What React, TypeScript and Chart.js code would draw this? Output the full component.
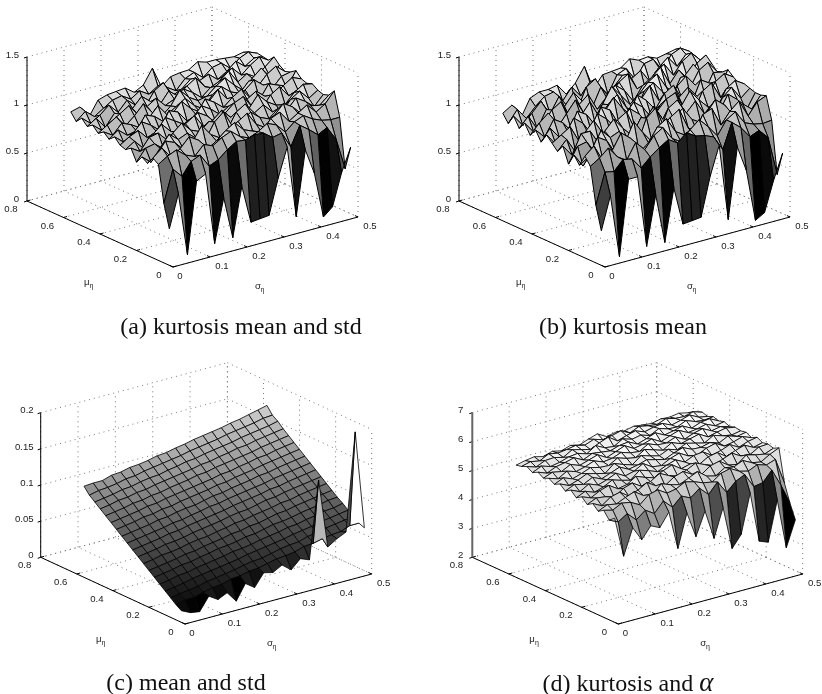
import React, { useEffect, useRef } from "react";
import { Chart, registerables } from "chart.js";

Chart.register(...registerables);

const sigmaGrid = [0,0.0245,0.049,0.0735,0.098,0.1225,0.147,0.1715,0.196,0.2205,0.245,0.2695,0.294,0.3185,0.343,0.3675,0.392,0.4165,0.441,0.4655,0.49];
const muGrid = [0.02,0.05,0.08,0.11,0.14,0.17,0.2,0.23,0.26,0.29,0.32,0.35,0.38,0.41,0.44,0.47,0.5,0.53,0.56];
const sigmaTicks = [0,0.1,0.2,0.3,0.4,0.5];
const muTicks = [0,0.2,0.4,0.6,0.8];

const kurtosisMeanStd = [
[.38,.72,.06,.80,.85,.10,.55,.11,.62,.22,.23,.24,.60,.90,.15,.82,.55,.07,.15,.48,.72],
[.62,.95,.85,.98,1.02,.88,.92,1.0,1.06,1.05,1.08,1.07,1.0,1.02,.85,1.05,.98,.9,.95,.8,.47],
[1.0,1.06,1.1,1.02,.98,1.08,1.04,1.1,1.14,1.06,1.02,1.06,1.12,1.08,.98,1.06,1.1,1.04,1.0,.98,.98],
[1.04,1.12,1.0,1.06,1.16,1.1,.98,1.04,1.12,1.18,1.08,1.04,1.0,1.12,1.16,1.04,1.1,1.16,1.06,1.12,1.23],
[.96,1.02,1.14,1.1,1.0,1.06,1.2,1.08,1.02,1.1,1.14,1.2,1.06,1.0,1.1,1.2,1.14,1.04,1.1,1.08,1.16],
[1.0,.92,1.04,1.16,1.08,1.12,1.04,1.0,1.16,1.24,1.06,1.1,1.16,1.08,1.04,1.12,1.08,1.18,1.12,1.04,1.14],
[.92,1.04,1.06,.98,1.12,1.2,1.1,1.06,1.14,1.04,1.0,1.16,1.22,1.1,1.16,1.06,1.02,1.14,1.2,1.1,1.16],
[1.04,.98,1.1,1.12,1.02,1.08,1.14,1.2,1.06,1.1,1.18,1.08,1.04,1.12,1.24,1.14,1.08,1.06,1.16,1.22,1.2],
[1.0,1.06,.96,1.08,1.16,1.06,1.02,1.12,1.18,1.12,1.02,1.1,1.18,1.22,1.08,1.04,1.16,1.22,1.1,1.14,1.18],
[1.02,1.08,1.12,1.02,1.06,1.18,1.12,1.06,1.1,1.2,1.14,1.06,1.12,1.06,1.14,1.2,1.12,1.1,1.18,1.24,1.2],
[1.08,1.0,1.06,1.16,1.1,1.02,1.2,1.16,1.04,1.08,1.22,1.16,1.08,1.16,1.22,1.1,1.06,1.2,1.16,1.1,1.26],
[1.03,1.1,1.02,1.04,1.18,1.14,1.06,1.12,1.22,1.12,1.06,1.14,1.24,1.12,1.06,1.16,1.24,1.16,1.1,1.2,1.22],
[1.08,1.02,1.12,1.08,1.02,1.1,1.2,1.08,1.14,1.2,1.1,1.04,1.16,1.22,1.14,1.1,1.2,1.12,1.22,1.28,1.2],
[1.04,1.1,1.16,1.04,1.12,1.22,1.1,1.04,1.12,1.26,1.16,1.1,1.12,1.2,1.26,1.16,1.08,1.18,1.26,1.14,1.24],
[1.1,1.02,1.08,1.14,1.2,1.08,1.14,1.2,1.1,1.14,1.22,1.16,1.08,1.16,1.2,1.28,1.14,1.2,1.14,1.22,1.3],
[1.06,1.12,1.0,1.12,1.06,1.12,1.22,1.14,1.08,1.2,1.12,1.2,1.26,1.14,1.1,1.2,1.26,1.16,1.24,1.3,1.24],
[1.12,1.04,1.1,1.18,1.08,1.18,1.1,1.06,1.2,1.26,1.1,1.14,1.22,1.18,1.22,1.14,1.2,1.28,1.2,1.26,1.25],
[1.06,1.14,1.06,1.12,1.18,1.2,1.14,1.2,1.14,1.2,1.16,1.1,1.2,1.24,1.16,1.24,1.26,1.18,1.26,1.3,1.26],
[1.135,1.16,1.03,1.18,1.21,1.22,1.23,1.16,1.21,1.36,1.14,1.22,1.235,1.24,1.30,1.27,1.27,1.26,1.25,1.27,1.22],
];

const kurtosisMean = [
[.36,.70,.04,.82,.82,.07,.58,.06,.60,.20,.21,.22,.62,.92,.12,.85,.58,.035,.09,.40,.66],
[.60,.92,.90,1.0,.98,.86,.95,1.02,1.08,1.02,1.1,1.04,1.02,.98,.82,1.08,1.0,.88,.92,.82,.41],
[.98,1.04,1.12,1.0,.94,1.1,1.0,1.12,1.18,1.04,.98,1.08,1.16,1.06,.94,1.08,1.14,1.0,.96,.94,.95],
[1.06,1.14,.96,1.04,1.2,1.12,.94,1.02,1.16,1.22,1.06,1.0,.98,1.16,1.2,1.0,1.12,1.2,1.02,1.14,1.18],
[.94,1.0,1.18,1.12,.96,1.04,1.24,1.1,.98,1.1,1.18,1.24,1.02,.96,1.12,1.24,1.16,1.0,1.12,1.04,1.16],
[1.02,.88,1.02,1.2,1.1,1.14,1.0,.96,1.2,1.28,1.04,1.12,1.2,1.06,1.0,1.14,1.06,1.22,1.14,1.0,1.16],
[.9,1.06,1.08,.94,1.14,1.24,1.12,1.02,1.18,1.0,.96,1.2,1.26,1.1,1.2,1.04,.98,1.16,1.24,1.1,1.18],
[1.06,.94,1.14,1.14,.98,1.06,1.18,1.24,1.02,1.1,1.22,1.06,1.0,1.14,1.28,1.16,1.06,1.02,1.2,1.26,1.2],
[.98,1.08,.92,1.1,1.2,1.04,.98,1.14,1.22,1.14,.98,1.12,1.22,1.26,1.06,1.0,1.2,1.26,1.08,1.16,1.18],
[1.04,1.1,1.16,.98,1.04,1.22,1.14,1.02,1.12,1.24,1.16,1.02,1.14,1.04,1.16,1.24,1.12,1.06,1.22,1.28,1.22],
[1.1,.98,1.04,1.2,1.12,.98,1.24,1.18,1.0,1.06,1.26,1.18,1.06,1.2,1.26,1.08,1.02,1.24,1.18,1.08,1.27],
[1.0,1.12,1.0,1.02,1.22,1.16,1.02,1.14,1.26,1.12,1.02,1.16,1.28,1.1,1.02,1.2,1.28,1.16,1.06,1.24,1.22],
[1.1,1.0,1.16,1.1,.98,1.12,1.24,1.06,1.16,1.24,1.08,1.0,1.2,1.26,1.14,1.06,1.24,1.1,1.26,1.32,1.2],
[1.02,1.12,1.2,1.02,1.14,1.26,1.08,1.0,1.14,1.3,1.18,1.06,1.14,1.24,1.3,1.14,1.04,1.2,1.3,1.12,1.26],
[1.12,1.0,1.06,1.18,1.24,1.04,1.16,1.24,1.06,1.16,1.26,1.18,1.04,1.18,1.24,1.32,1.12,1.24,1.12,1.26,1.32],
[1.04,1.14,.98,1.16,1.04,1.14,1.26,1.14,1.04,1.24,1.1,1.24,1.3,1.12,1.06,1.24,1.3,1.16,1.28,1.34,1.24],
[1.14,1.02,1.12,1.22,1.06,1.22,1.08,1.02,1.24,1.3,1.06,1.16,1.26,1.2,1.26,1.12,1.24,1.32,1.2,1.3,1.26],
[1.04,1.16,1.04,1.14,1.22,1.24,1.12,1.24,1.12,1.24,1.18,1.06,1.24,1.28,1.14,1.28,1.3,1.16,1.3,1.34,1.28],
[1.12,1.18,1.02,1.2,1.24,1.24,1.26,1.14,1.23,1.38,1.12,1.24,1.25,1.26,1.33,1.29,1.3,1.26,1.28,1.3,1.24],
];

const meanStd = [
[.016,.010,.008,.026,.018,.024,.009,.030,.021,.038,.035,.042,.032,.044,.039,.146,.050,.058,.064,.199,.063],
[.021,.024,.024,.028,.031,.032,.036,.037,.040,.041,.044,.047,.048,.050,.054,.055,.058,.060,.061,.066,.066],
[.027,.029,.031,.033,.036,.038,.040,.042,.045,.047,.048,.051,.054,.056,.057,.061,.063,.066,.068,.070,.071],
[.033,.035,.037,.040,.042,.044,.046,.048,.050,.053,.055,.057,.059,.061,.064,.066,.068,.071,.073,.075,.077],
[.039,.041,.044,.045,.048,.050,.052,.054,.057,.058,.060,.063,.065,.067,.070,.071,.074,.076,.079,.080,.083],
[.045,.047,.049,.052,.053,.056,.058,.061,.062,.064,.067,.068,.071,.074,.075,.077,.080,.082,.084,.087,.088],
[.051,.053,.055,.057,.060,.061,.064,.066,.068,.071,.072,.075,.076,.079,.082,.083,.086,.088,.090,.092,.094],
[.057,.059,.062,.063,.065,.068,.070,.071,.074,.076,.079,.080,.083,.085,.087,.090,.091,.094,.096,.098,.100],
[.063,.065,.067,.070,.071,.073,.076,.078,.080,.082,.085,.087,.088,.091,.094,.095,.098,.100,.102,.104,.106],
[.069,.071,.073,.075,.078,.079,.082,.084,.086,.088,.090,.093,.095,.097,.099,.102,.103,.106,.108,.110,.112],
[.075,.077,.079,.081,.083,.086,.087,.090,.092,.095,.096,.099,.101,.103,.105,.107,.110,.112,.114,.116,.118],
[.081,.083,.085,.087,.090,.091,.094,.096,.097,.100,.103,.104,.107,.109,.111,.114,.115,.118,.120,.122,.124],
[.087,.089,.091,.094,.095,.098,.099,.102,.104,.106,.108,.111,.112,.115,.117,.119,.122,.124,.126,.128,.130],
[.093,.095,.097,.099,.102,.103,.106,.108,.110,.112,.114,.116,.119,.120,.123,.125,.128,.129,.132,.134,.136],
[.099,.101,.103,.106,.107,.110,.111,.114,.116,.118,.121,.122,.125,.127,.129,.131,.133,.136,.138,.140,.142],
[.105,.107,.110,.111,.114,.115,.118,.120,.122,.124,.126,.129,.130,.133,.135,.138,.139,.142,.144,.146,.148],
[.111,.113,.115,.118,.119,.122,.124,.125,.128,.130,.133,.134,.137,.139,.141,.143,.146,.148,.150,.152,.155],
[.117,.120,.121,.123,.126,.127,.130,.132,.134,.136,.138,.141,.143,.145,.147,.150,.152,.154,.156,.159,.160],
[.126,.127,.127,.131,.132,.135,.136,.138,.141,.142,.145,.147,.150,.152,.154,.156,.159,.161,.164,.167,.170],
];

const kurtosisAlpha = [
[5.60,4.20,5.10,4.60,5.00,4.85,5.30,3.96,5.10,4.20,5.00,3.97,4.95,3.45,3.85,5.20,3.45,3.33,4.70,2.97,3.85],
[5.45,5.30,5.50,5.20,5.45,5.25,5.60,5.30,5.60,5.45,5.70,5.40,5.75,5.30,5.60,5.75,5.25,5.30,5.65,5.05,4.35],
[5.70,5.62,5.78,5.72,5.55,5.82,5.90,5.70,5.76,5.92,5.84,5.72,5.66,5.88,5.96,5.78,5.70,5.84,5.74,5.85,4.95],
[5.58,5.72,5.66,5.80,5.92,5.70,5.64,5.94,5.82,5.74,5.88,6.02,5.78,5.70,5.90,5.84,5.98,5.82,5.76,5.94,6.08],
[5.76,5.60,5.82,5.90,5.68,5.80,5.98,5.78,5.70,5.92,6.02,5.84,5.74,5.96,6.04,5.82,5.76,6.00,5.92,5.86,5.98],
[5.64,5.78,5.74,5.62,5.86,5.96,5.76,5.84,6.04,5.88,5.78,5.90,6.06,5.92,5.80,5.94,6.06,5.88,5.84,6.02,6.04],
[5.82,5.70,5.86,5.96,5.76,5.82,6.02,5.90,5.80,5.96,6.08,5.86,5.94,5.84,6.02,6.08,5.86,5.98,6.08,5.92,6.00],
[5.70,5.84,5.72,5.82,5.98,5.88,5.80,6.06,5.96,5.84,5.98,6.08,5.92,6.06,6.10,5.90,5.98,6.10,5.92,6.04,6.10],
[5.88,5.74,5.92,5.80,5.90,6.04,5.86,5.94,6.12,5.92,5.88,6.04,6.14,5.96,5.90,6.06,6.14,5.96,6.02,6.12,6.00],
[5.76,5.90,5.82,5.98,5.84,5.96,6.08,5.92,5.98,6.08,6.00,5.92,6.06,6.16,6.02,6.00,6.08,5.98,6.14,6.04,6.10],
[5.92,5.78,5.88,6.02,5.94,5.86,6.12,6.00,5.90,6.14,6.04,5.96,6.10,6.00,6.14,6.06,5.98,6.16,6.06,6.00,6.06],
[5.82,5.96,5.84,5.94,6.06,5.98,5.96,6.14,6.04,5.98,6.18,6.08,5.98,6.16,6.04,6.12,6.20,6.02,6.10,6.16,6.10],
[5.94,5.84,6.02,5.92,6.00,6.12,6.00,6.04,6.16,6.06,6.02,6.20,6.08,6.06,6.18,6.02,6.14,6.22,6.06,6.12,6.04],
[5.86,5.98,5.92,6.08,5.96,6.06,6.16,5.98,6.10,6.22,6.04,6.10,6.20,6.02,6.14,6.24,6.08,6.12,6.20,6.06,6.12],
[5.98,5.86,6.00,6.06,6.14,5.98,6.12,6.08,6.04,6.14,6.18,6.02,6.12,6.24,6.08,6.14,6.22,6.06,6.18,6.22,6.06],
[5.88,6.02,5.92,5.98,6.08,6.12,6.02,6.22,6.06,6.02,6.20,6.10,6.16,6.06,6.22,6.12,6.10,6.24,6.12,6.08,6.12],
[6.00,5.90,6.04,6.06,5.98,6.16,6.08,6.00,6.14,6.26,6.04,6.14,6.22,6.10,6.18,6.22,6.08,6.16,6.26,6.10,6.04],
[5.92,6.00,5.94,6.10,6.04,6.08,6.14,6.06,6.18,6.08,6.14,6.22,6.06,6.20,6.14,6.10,6.22,6.14,6.12,6.20,6.10],
[5.88,5.95,6.00,5.92,6.02,5.95,6.05,5.98,6.10,6.20,6.02,6.08,6.05,6.12,6.08,6.05,6.12,6.10,6.15,6.08,6.02],
];

const zTicksA = [0,0.5,1,1.5];
const zTicksC = [0,0.05,0.1,0.15,0.2];
const zTicksD = [2,3,4,5,6,7];

type Panel = {
  left: number; top: number; w: number; h: number;
  origin: number[]; sigmaVec: number[]; muVec: number[]; zPx: number;
  zTicks: number[]; grid: number[][]; lineWidth: number; axisColor: string; axisWidth: number;
  zLabelDx: number; caption: React.ReactNode; capX: number; capY: number;
};

const panels: Panel[] = [
  { left: 0, top: 0, w: 411, h: 347, origin: [173, 267], sigmaVec: [185, -50], muVec: [-146, -66], zPx: 144, zTicks: zTicksA, grid: kurtosisMeanStd, lineWidth: 1, axisColor: "#000", axisWidth: 1, zLabelDx: -8, caption: "(a) kurtosis mean and std", capX: 241, capY: 326 },
  { left: 411, top: 0, w: 411, h: 347, origin: [605, 267], sigmaVec: [185, -50], muVec: [-146, -66], zPx: 144, zTicks: zTicksA, grid: kurtosisMean, lineWidth: 1, axisColor: "#000", axisWidth: 1, zLabelDx: -8, caption: "(b) kurtosis mean", capX: 623, capY: 326 },
  { left: 0, top: 347, w: 411, h: 347, origin: [185, 624], sigmaVec: [186.7, -50], muVec: [-144.3, -66.7], zPx: 144.6, zTicks: zTicksC, grid: meanStd, lineWidth: 0.8, axisColor: "#000", axisWidth: 1, zLabelDx: -7, caption: "(c) mean and std", capX: 186, capY: 682 },
  { left: 411, top: 347, w: 411, h: 347, origin: [618.3, 624], sigmaVec: [184.4, -50], muVec: [-146, -66.7], zPx: 144.6, zTicks: zTicksD, grid: kurtosisAlpha, lineWidth: 0.8, axisColor: "#666", axisWidth: 2, zLabelDx: -9,
    caption: <>(d) kurtosis and <span style={{ fontStyle: "italic", fontSize: 27 }}>α</span></>, capX: 628, capY: 682 },
];

function buildDatasets(p: Panel) {
  const zMin = p.zTicks[0];
  const zMax = p.zTicks[p.zTicks.length - 1];
  const flat = p.grid.flat();
  const cMin = Math.min(...flat);
  const cMax = Math.max(...flat);
  const project = (s: number, m: number, z: number) => ({
    x: p.origin[0] + (s / 0.5) * p.sigmaVec[0] + (m / 0.8) * p.muVec[0],
    y: p.origin[1] + (s / 0.5) * p.sigmaVec[1] + (m / 0.8) * p.muVec[1] - ((z - zMin) / (zMax - zMin)) * p.zPx,
  });
  const sets: any[] = [];
  const base = { type: "scatter", showLine: true, pointRadius: 0, tension: 0, clip: false };
  // surface quads: front corner first, because Chart.js paints the first dataset last
  for (let r = 0; r < muGrid.length - 1; r++) {
    for (let c = 0; c < sigmaGrid.length - 1; c++) {
      const g = Math.round(255 * Math.min(1, Math.max(0, (p.grid[r][c] - cMin) / (cMax - cMin))));
      sets.push({
        ...base,
        data: [
          project(sigmaGrid[c], muGrid[r], p.grid[r][c]),
          project(sigmaGrid[c + 1], muGrid[r], p.grid[r][c + 1]),
          project(sigmaGrid[c + 1], muGrid[r + 1], p.grid[r + 1][c + 1]),
          project(sigmaGrid[c], muGrid[r + 1], p.grid[r + 1][c]),
          project(sigmaGrid[c], muGrid[r], p.grid[r][c]),
        ],
        fill: "shape",
        backgroundColor: `rgb(${g},${g},${g})`,
        borderColor: "#000",
        borderWidth: p.lineWidth,
        borderJoinStyle: "round",
      });
    }
  }
  const solid = (a: any, b: any, color = "#000", w = 1) => sets.push({ ...base, data: [a, b], borderColor: color, borderWidth: w, fill: false });
  solid(project(0, 0.8, zMin), project(0, 0.8, zMax), p.axisColor, p.axisWidth);
  solid(project(0, 0, zMin), project(0, 0.8, zMin));
  solid(project(0, 0, zMin), project(0.5, 0, zMin));
  for (const z of p.zTicks) {
    const a = project(0, 0.8, z);
    solid(a, { x: a.x - 3, y: a.y + 1 });
  }
  for (const s of sigmaTicks) {
    const a = project(s, 0, zMin);
    solid(a, { x: a.x - 3, y: a.y - 1.4 });
  }
  for (const m of muTicks) {
    const a = project(0, m, zMin);
    solid(a, { x: a.x + 3.5, y: a.y - 1 });
  }
  const dotted = (a: any, b: any) => sets.push({ ...base, data: [a, b], borderColor: "#777", borderWidth: 1, borderDash: [1, 4], fill: false });
  for (const s of sigmaTicks) {
    dotted(project(s, 0, zMin), project(s, 0.8, zMin));
    dotted(project(s, 0.8, zMin), project(s, 0.8, zMax));
  }
  for (const m of muTicks) {
    dotted(project(0, m, zMin), project(0.5, m, zMin));
    dotted(project(0.5, m, zMin), project(0.5, m, zMax));
  }
  for (const z of p.zTicks) {
    dotted(project(0, 0.8, z), project(0.5, 0.8, z));
    dotted(project(0.5, 0.8, z), project(0.5, 0, z));
  }

  const labelPlugin = {
    id: "labels3d",
    afterDraw(chart: any) {
      const ctx = chart.ctx;
      const X = (v: number) => chart.scales.x.getPixelForValue(v);
      const Y = (v: number) => chart.scales.y.getPixelForValue(v);
      ctx.save();
      ctx.fillStyle = "#222";
      ctx.textBaseline = "middle";
      ctx.font = '9.6px "Liberation Sans"';
      ctx.textAlign = "right";
      for (const z of p.zTicks) {
        const a = project(0, 0.8, z);
        ctx.fillText(String(z), X(a.x + p.zLabelDx), Y(a.y - 2));
      }
      ctx.textAlign = "center";
      for (const s of sigmaTicks) {
        const a = project(s, 0, zMin);
        ctx.fillText(String(s), X(a.x + (s === 0 ? 7 : 12)), Y(a.y + 9.5));
      }
      for (const m of muTicks) {
        const a = project(0, m, zMin);
        ctx.fillText(String(m), X(a.x + (m === 0 ? -14 : -16)), Y(a.y + 8.5));
      }
      const sub = (sym: string, x: number, y: number) => {
        ctx.font = '9.6px "Liberation Sans"';
        ctx.textAlign = "left";
        ctx.fillText(sym, X(x), Y(y));
        ctx.font = '7px "Liberation Sans"';
        ctx.fillText("η", X(x + 5.6), Y(y + 4));
      };
      sub("μ", p.origin[0] - 89, p.origin[1] + 15);
      sub("σ", p.origin[0] + 82, p.origin[1] + 19);
      ctx.restore();
    },
  };
  return { sets, labelPlugin };
}

function Panel3D({ p }: { p: Panel }) {
  const ref = useRef<HTMLCanvasElement>(null);
  useEffect(() => {
    const { sets, labelPlugin } = buildDatasets(p);
    const chart = new Chart(ref.current as HTMLCanvasElement, {
      type: "scatter",
      data: { datasets: sets },
      plugins: [labelPlugin],
      options: {
        animation: false,
        responsive: false,
        events: [],
        layout: { padding: 0 },
        plugins: { legend: { display: false }, tooltip: { enabled: false }, title: { display: false } },
        scales: {
          x: { type: "linear", display: false, min: p.left, max: p.left + p.w },
          y: { type: "linear", display: false, reverse: true, min: p.top, max: p.top + p.h },
        },
      },
    } as any);
    return () => chart.destroy();
  }, [p]);
  return (
    <canvas
      ref={ref}
      width={p.w}
      height={p.h}
      style={{ position: "absolute", left: p.left, top: p.top, width: p.w, height: p.h }}
    />
  );
}

export default function App() {
  return (
    <div style={{ position: "absolute", left: 0, top: 0, width: 822, height: 694, background: "#fff", overflow: "hidden" }}>
      {panels.map((p, i) => <Panel3D key={i} p={p} />)}
      {panels.map((p, i) => (
        <div
          key={"c" + i}
          style={{
            position: "absolute", left: p.capX, top: p.capY, transform: "translate(-50%,-50%)",
            font: '24px "Liberation Serif", serif', color: "#111", whiteSpace: "nowrap",
          }}
        >
          {p.caption}
        </div>
      ))}
    </div>
  );
}
